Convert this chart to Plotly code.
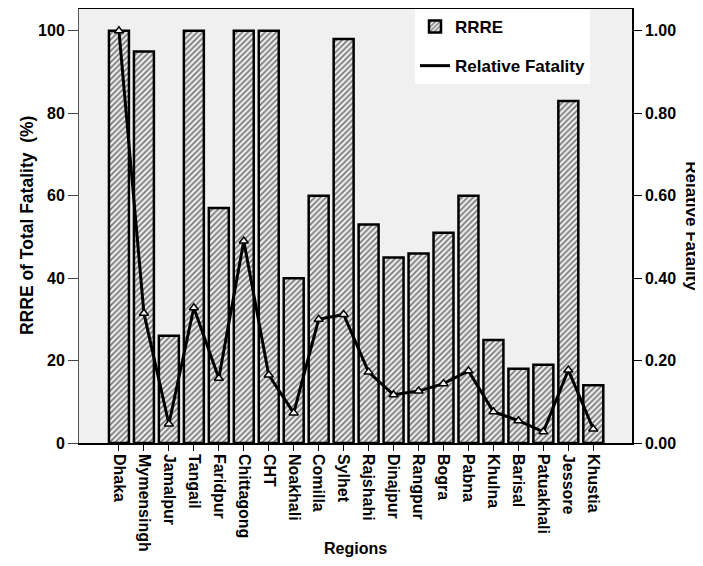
import plotly.graph_objects as go

regions = ["Dhaka", "Mymensingh", "Jamalpur", "Tangail", "Faridpur", "Chittagong", "CHT",
           "Noakhali", "Comilla", "Sylhet", "Rajshahi", "Dinajpur", "Rangpur", "Bogra",
           "Pabna", "Khulna", "Barisal", "Patuakhali", "Jessore", "Khustia"]
rrre = [100, 95, 26, 100, 57, 100, 100, 40, 60, 98, 53, 45, 46, 51, 60, 25, 18, 19, 83, 14]
rel_fatality = [1.00, 0.315, 0.046, 0.328, 0.157, 0.49, 0.165, 0.073, 0.30, 0.312, 0.172,
                0.117, 0.126, 0.144, 0.175, 0.076, 0.054, 0.027, 0.177, 0.034]
left_ticks = [0, 20, 40, 60, 80, 100]
right_ticks = [0, 0.2, 0.4, 0.6, 0.8, 1.0]

FONT = "Arial, Liberation Sans, sans-serif"

fig = go.Figure()
fig.add_trace(go.Bar(
    x=regions, y=rrre, name="RRRE", width=0.8,
    marker=dict(color="#f0f0f0", line=dict(color="black", width=2.5),
                pattern=dict(shape="/", fgcolor="black", bgcolor="#ececec", size=4, solidity=0.4)),
    legendgroup="a",
))
fig.add_trace(go.Scatter(
    x=regions, y=rel_fatality, name="Relative Fatality", mode="lines",
    line=dict(color="black", width=3), yaxis="y2", legendgroup="b",
))
fig.add_trace(go.Scatter(
    x=regions, y=rel_fatality, mode="markers", showlegend=False, yaxis="y2",
    marker=dict(symbol="triangle-up", size=8, color="#f4f4f4", line=dict(color="black", width=1.5)),
))

fig.update_layout(
    width=695, height=558,
    margin=dict(l=71, r=71, t=1, b=123),
    paper_bgcolor="white", plot_bgcolor="#f0f0f0",
    font=dict(family=FONT, size=16, color="black"),
    bargap=0.2,
    xaxis=dict(
        type="category", range=[-1.6, 20.55], tickangle=90, automargin=False,
        tickfont=dict(family=FONT, size=16, color="black", weight="bold"),
        ticks="outside", ticklen=6, tickcolor="black",
        showline=True, linecolor="black", linewidth=1.5, mirror=True,
        showgrid=False,
    ),
    yaxis=dict(
        range=[0, 105.3], tickvals=left_ticks, automargin=False,
        tickfont=dict(family=FONT, size=16, color="black", weight="bold"),
        ticks="outside", ticklen=10, tickcolor="#444",
        showline=True, linecolor="#555", linewidth=1,
        showgrid=False, zeroline=False,
    ),
    yaxis2=dict(
        overlaying="y", side="right", range=[0, 1.053], tickvals=right_ticks,
        tickformat=".2f", automargin=False,
        tickfont=dict(family=FONT, size=16, color="black", weight="bold"),
        ticks="outside", ticklen=8, tickcolor="black",
        showline=True, linecolor="black", linewidth=1.5,
        showgrid=False, zeroline=False,
    ),
    legend=dict(
        x=0.6076, y=1, xanchor="left", yanchor="top",
        bgcolor="white", borderwidth=0,
        font=dict(family=FONT, size=17, color="black", weight="bold"),
        traceorder="grouped", tracegroupgap=14,
    ),
    annotations=[
        dict(text="<b>RRRE of Total Fatality  (%)</b>", xref="paper", yref="paper",
             x=-0.094, y=0.5, xanchor="center", yanchor="middle",
             textangle=-90, showarrow=False, font=dict(family=FONT, size=17.5, color="black")),
        dict(text="<b>Relative Fatality</b>", xref="paper", yref="paper",
             x=1.108, y=0.5, xanchor="center", yanchor="middle",
             textangle=90, showarrow=False, font=dict(family=FONT, size=17, color="black")),
        dict(text="<b>Regions</b>", xref="paper", yref="paper",
             x=0.5, y=-0.242, xanchor="center", yanchor="middle",
             showarrow=False, font=dict(family=FONT, size=16, color="black")),
    ],
)

fig.write_html("out.html")
